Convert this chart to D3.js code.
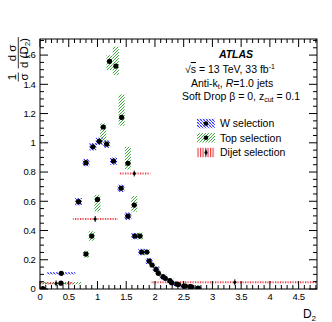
<!DOCTYPE html>
<html>
<head>
<meta charset="utf-8">
<script src="https://cdn.jsdelivr.net/npm/d3@7"></script>
<style>
body { margin: 0; background: #fff; }
svg { display: block; font-family: "Liberation Sans", Arial, sans-serif; }
</style>
</head>
<body>
<svg width="332" height="322"></svg>
<script>
// W selection (blue)
const wX    = [0.05, 0.37, 0.67, 0.80, 0.92, 1.03, 1.16, 1.28, 1.41, 1.53, 1.65, 1.77, 1.90, 2.02, 2.14, 2.26, 2.38, 2.50, 2.61, 2.75];
const wY    = [0.003, 0.107, 0.597, 0.864, 0.973, 1.010, 0.991, 0.875, 0.689, 0.498, 0.362, 0.253, 0.191, 0.134, 0.084, 0.057, 0.034, 0.020, 0.016, 0.007];
const wErr  = [0.005, 0.008, 0.025, 0.025, 0.025, 0.025, 0.025, 0.025, 0.025, 0.025, 0.022, 0.022, 0.02, 0.02, 0.018, 0.016, 0.014, 0.012, 0.01, 0.008];
const wHalf = [0.05, 0.245, 0.06, 0.06, 0.06, 0.06, 0.06, 0.06, 0.06, 0.06, 0.06, 0.06, 0.06, 0.06, 0.06, 0.06, 0.06, 0.06, 0.06, 0.06];

// Top selection (green)
const topX    = [0.365, 0.80, 0.90, 1.00, 1.10, 1.21, 1.32, 1.42, 1.53, 1.64, 1.74, 1.86, 1.95, 2.06, 2.18, 2.29, 2.41, 2.53, 2.64];
const topY    = [0.040, 0.239, 0.362, 0.613, 1.108, 1.557, 1.525, 1.174, 0.860, 0.574, 0.362, 0.253, 0.164, 0.107, 0.073, 0.043, 0.030, 0.020, 0.014];
const topLo   = [0.032, 0.215, 0.330, 0.530, 1.007, 1.497, 1.463, 1.117, 0.818, 0.529, 0.340, 0.235, 0.150, 0.095, 0.063, 0.035, 0.023, 0.014, 0.009];
const topHi   = [0.048, 0.262, 0.395, 0.645, 1.133, 1.600, 1.657, 1.331, 0.973, 0.636, 0.385, 0.270, 0.178, 0.120, 0.083, 0.051, 0.037, 0.026, 0.019];
const topHalf = [0.365, 0.053, 0.053, 0.053, 0.053, 0.053, 0.053, 0.053, 0.053, 0.053, 0.053, 0.053, 0.053, 0.053, 0.053, 0.053, 0.053, 0.053, 0.053];

// Dijet selection (red), wide bins
const djX     = [0.28, 0.96, 1.64, 3.39];
const djY     = [0.039, 0.479, 0.790, 0.046];
const djBinLo = [0.0, 0.57, 1.37, 1.93];
const djBinHi = [0.57, 1.35, 1.92, 5.0];
const djErr   = [0.02, 0.02, 0.02, 0.02];

const xTicks = [0, 0.5, 1, 1.5, 2, 2.5, 3, 3.5, 4, 4.5];
const yTicks = [0, 0.2, 0.4, 0.6, 0.8, 1, 1.2, 1.4, 1.6];

const W = 332, H = 322;
const margin = {top: 39, left: 40, right: 15, bottom: 33};
const svg = d3.select("svg");

const x = d3.scaleLinear().domain([0, 4.82]).range([margin.left, W - margin.right]);
const y = d3.scaleLinear().domain([0, 1.71]).range([H - margin.bottom, margin.top]);

const defs = svg.append("defs");
defs.append("clipPath").attr("id", "plotclip").append("rect")
  .attr("x", margin.left).attr("y", margin.top)
  .attr("width", W - margin.left - margin.right).attr("height", H - margin.top - margin.bottom);

// hatch patterns
let pw = defs.append("pattern").attr("id", "hatchW").attr("patternUnits", "userSpaceOnUse")
  .attr("width", 3).attr("height", 3);
pw.append("path").attr("d", "M0,0 L3,3 M-1,2 L1,4 M2,-1 L4,1").attr("stroke", "#1a1aff").attr("stroke-width", 0.9);
pw.append("path").attr("d", "M0,3 L3,0").attr("stroke", "#6a6aff").attr("stroke-width", 0.5);
let pt = defs.append("pattern").attr("id", "hatchTop").attr("patternUnits", "userSpaceOnUse")
  .attr("width", 3).attr("height", 3);
pt.append("path").attr("d", "M0,3 L3,0 M-1,1 L1,-1 M2,4 L4,2").attr("stroke", "#2aa02a").attr("stroke-width", 0.9);
let pd = defs.append("pattern").attr("id", "hatchDj").attr("patternUnits", "userSpaceOnUse")
  .attr("width", 2.5).attr("height", 3);
pd.append("line").attr("x1", 0.6).attr("x2", 0.6).attr("y1", 0).attr("y2", 3).attr("stroke", "#e8303a").attr("stroke-width", 1.1);

const plot = svg.append("g").attr("clip-path", "url(#plotclip)");

// W boxes
plot.append("g").selectAll("rect").data(wX).join("rect")
  .attr("x", (d, i) => x(d - wHalf[i]))
  .attr("width", (d, i) => x(d + wHalf[i]) - x(d - wHalf[i]))
  .attr("y", (d, i) => y(wY[i] + wErr[i]))
  .attr("height", (d, i) => y(wY[i] - wErr[i]) - y(wY[i] + wErr[i]))
  .attr("fill", "url(#hatchW)");

// Top boxes
plot.append("g").selectAll("rect").data(topX).join("rect")
  .attr("x", (d, i) => x(d - topHalf[i]))
  .attr("width", (d, i) => x(d + topHalf[i]) - x(d - topHalf[i]))
  .attr("y", (d, i) => y(topHi[i]))
  .attr("height", (d, i) => y(topLo[i]) - y(topHi[i]))
  .attr("fill", "url(#hatchTop)");

// Dijet bands (thin)
plot.append("g").selectAll("rect").data(djX).join("rect")
  .attr("x", (d, i) => x(djBinLo[i]))
  .attr("width", (d, i) => x(djBinHi[i]) - x(djBinLo[i]))
  .attr("y", (d, i) => y(djY[i]) - 1)
  .attr("height", 2)
  .attr("fill", "url(#hatchDj)");

// markers
plot.append("g").selectAll("circle").data(wX).join("circle")
  .attr("cx", d => x(d)).attr("cy", (d, i) => y(wY[i])).attr("r", 2.6).attr("fill", "#000");
plot.append("g").selectAll("circle").data(topX).join("circle")
  .attr("cx", d => x(d)).attr("cy", (d, i) => y(topY[i])).attr("r", 2.6).attr("fill", "#000");
const dj = plot.append("g");
dj.selectAll("line").data(djX).join("line")
  .attr("x1", d => x(d)).attr("x2", d => x(d))
  .attr("y1", (d, i) => y(djY[i] + djErr[i])).attr("y2", (d, i) => y(djY[i] - djErr[i]))
  .attr("stroke", "#000").attr("stroke-width", 1);
dj.selectAll("circle").data(djX).join("circle")
  .attr("cx", d => x(d)).attr("cy", (d, i) => y(djY[i])).attr("r", 1.5).attr("fill", "#000");

// frame + ticks
const axes = svg.append("g").attr("stroke", "#000").attr("stroke-width", 1);
const x0 = margin.left, x1 = W - margin.right, y0 = H - margin.bottom, y1 = margin.top;
axes.append("rect").attr("x", x0).attr("y", y1).attr("width", x1 - x0).attr("height", y0 - y1).attr("fill", "none");

const xMinor = d3.range(0, 4.82, 0.1);
const yMinor = d3.range(0, 1.71, 0.05);
function isMajor(v, step) { return Math.abs(v / step - Math.round(v / step)) < 1e-6; }
xMinor.forEach(v => {
  const len = isMajor(v, 0.5) ? 8 : 4;
  axes.append("line").attr("x1", x(v)).attr("x2", x(v)).attr("y1", y0).attr("y2", y0 - len);
  axes.append("line").attr("x1", x(v)).attr("x2", x(v)).attr("y1", y1).attr("y2", y1 + len);
});
yMinor.forEach(v => {
  const len = isMajor(v, 0.2) ? 8 : 4;
  axes.append("line").attr("y1", y(v)).attr("y2", y(v)).attr("x1", x0).attr("x2", x0 + len);
  axes.append("line").attr("y1", y(v)).attr("y2", y(v)).attr("x1", x1).attr("x2", x1 - len);
});

// tick labels
const lab = svg.append("g").attr("font-size", 9.5).attr("fill", "#000").attr("letter-spacing", -0.4);
lab.selectAll(".xl").data(xTicks).join("text").attr("class", "xl")
  .attr("x", d => x(d)).attr("y", 300).attr("text-anchor", "middle").text(d => String(d));
lab.selectAll(".yl").data(yTicks).join("text").attr("class", "yl")
  .attr("x", 35.5).attr("y", d => y(d) + 3.4).attr("text-anchor", "end").text(d => String(d));

// axis titles
const xt = svg.append("text").attr("x", 316).attr("y", 318).attr("text-anchor", "end").attr("font-size", 12);
xt.append("tspan").text("D");
xt.append("tspan").attr("font-size", 8).attr("dy", 3).text("2");

const yl = svg.append("g").attr("transform", "translate(17.5,60) rotate(-90)").attr("font-size", 11.5);
yl.append("text").attr("x", -17).attr("y", -1.8).attr("text-anchor", "middle").text("1");
yl.append("text").attr("x", -17).attr("y", 10.5).attr("text-anchor", "middle").text("σ");
yl.append("line").attr("x1", -21.5).attr("x2", -12.5).attr("y1", 0.8).attr("y2", 0.8).attr("stroke", "#000").attr("stroke-width", 0.8);
yl.append("text").attr("x", 7).attr("y", -1.8).attr("text-anchor", "middle").text("d σ");
const den = yl.append("text").attr("x", 7).attr("y", 10.5).attr("text-anchor", "middle");
den.append("tspan").text("d (D");
den.append("tspan").attr("font-size", 8).attr("dy", 2).text("2");
den.append("tspan").attr("dy", -2).text(")");
yl.append("line").attr("x1", -8.5).attr("x2", 23).attr("y1", 0.8).attr("y2", 0.8).attr("stroke", "#000").attr("stroke-width", 0.8);

// ATLAS label block
svg.append("text").attr("x", 236).attr("y", 57.5).attr("text-anchor", "middle")
  .attr("font-size", 10.5).attr("font-weight", "bold").attr("font-style", "italic").text("ATLAS");
const info = svg.append("g").attr("font-size", 10.5);
const l1 = info.append("text").attr("x", 185).attr("y", 73);
l1.append("tspan").text("√");
l1.append("tspan").attr("text-decoration", "overline").text("s");
l1.append("tspan").text(" = 13 TeV, 33 fb");
l1.append("tspan").attr("font-size", 7).attr("dy", -4).text("-1");
const l2 = info.append("text").attr("x", 191).attr("y", 86.5);
l2.append("tspan").text("Anti-k");
l2.append("tspan").attr("font-size", 7).attr("dy", 2).text("t");
l2.append("tspan").attr("dy", -2).text(", ");
l2.append("tspan").attr("font-style", "italic").text("R");
l2.append("tspan").text("=1.0 jets");
const l3 = info.append("text").attr("x", 182).attr("y", 99.5);
l3.append("tspan").text("Soft Drop β = 0, z");
l3.append("tspan").attr("font-size", 7).attr("dy", 2).text("cut");
l3.append("tspan").attr("dy", -2).text(" = 0.1");

// legend
const legNames = ["W selection", "Top selection", "Dijet selection"];
const legFills = ["url(#hatchW)", "url(#hatchTop)", "url(#hatchDj)"];
const legY = [123.5, 137.8, 152.5];
const leg = svg.append("g");
legNames.forEach((name, i) => {
  leg.append("rect").attr("x", 197).attr("y", legY[i] - 4.7).attr("width", 18).attr("height", 9.4).attr("fill", legFills[i]);
  leg.append("circle").attr("cx", 206).attr("cy", legY[i]).attr("r", i == 2 ? 1.5 : 2.3).attr("fill", "#000");
  if (i == 2) leg.append("line").attr("x1", 206).attr("x2", 206).attr("y1", legY[i] - 3).attr("y2", legY[i] + 3).attr("stroke", "#000");
  leg.append("text").attr("x", 220).attr("y", legY[i] + 3.7).attr("font-size", 10.5).text(name);
});
</script>
</body>
</html>
